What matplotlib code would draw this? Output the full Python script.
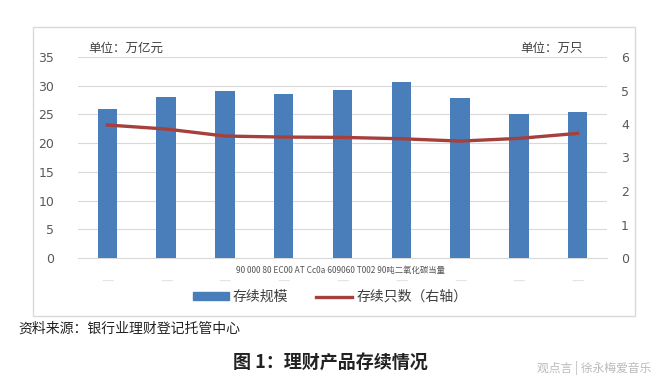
import matplotlib
matplotlib.use("Agg")
import matplotlib.pyplot as plt
import numpy as np
from matplotlib.patches import Rectangle
from matplotlib.lines import Line2D

plt.rcParams['font.family'] = ['Noto Sans CJK SC', 'DejaVu Sans']

# ---- data ----
periods = ["P1", "P2", "P3", "P4", "P5", "P6", "P7", "P8", "P9"]
scale_trn = [25.9, 28.1, 29.1, 28.5, 29.3, 30.7, 27.8, 25.1, 25.5]   # 存续规模 (万亿元)
count_wan = [3.97, 3.85, 3.64, 3.61, 3.60, 3.56, 3.49, 3.57, 3.72]   # 存续只数 (万只)
left_ticks = [0, 5, 10, 15, 20, 25, 30, 35]
right_ticks = [0, 1, 2, 3, 4, 5, 6]

BLUE = "#4A7EBB"
RED = "#A5403D"
GRAY = "#595959"

fig = plt.figure(figsize=(6.6, 3.88), dpi=100)
W, H = 660, 388

# outer chart box
fig.patches.append(Rectangle((33 / W, 1 - 316 / H), (635 - 33) / W, (316 - 27) / H,
                             transform=fig.transFigure, fill=False,
                             edgecolor="#D9D9D9", linewidth=1.0))

ax = fig.add_axes([78 / W, 1 - 258 / H, (607 - 78) / W, (258 - 57) / H])
x = np.arange(len(periods))
ax.bar(x, scale_trn, width=0.33, color=BLUE, zorder=3)
ax.set_xlim(-0.5, len(periods) - 0.5)
ax.set_ylim(0, 35)
ax.set_yticks(left_ticks)
ax.set_yticklabels([str(t) for t in left_ticks], fontsize=9, color=GRAY,
                   family=['DejaVu Sans'])
ax.tick_params(axis='y', length=0, pad=17)
ax.grid(axis='y', color="#D9D9D9", linewidth=0.8, zorder=0)
for s in ["left", "right", "top"]:
    ax.spines[s].set_visible(False)
ax.spines["bottom"].set_color("#D9D9D9")
ax.set_xticks(x)
ax.set_xticklabels(["—"] * len(periods), fontsize=10, color="#E3E3E3")
ax.tick_params(axis='x', length=0, pad=12)

ax2 = ax.twinx()
ax2.plot(x, count_wan, color=RED, linewidth=2.4, zorder=4)
ax2.set_ylim(0, 6)
ax2.set_yticks(right_ticks)
ax2.set_yticklabels([str(t) for t in right_ticks], fontsize=9, color=GRAY,
                    family=['DejaVu Sans'])
ax2.tick_params(axis='y', length=0, pad=10)
for s in ["left", "right", "top", "bottom"]:
    ax2.spines[s].set_visible(False)

# unit labels
fig.text(88 / W, 1 - 48 / H, "单位：万亿元", fontsize=9, color="#404040", va="center")
fig.text(583 / W, 1 - 48 / H, "单位：万只", fontsize=9, color="#404040", va="center", ha="right")

# faint overlay text
fig.text(340 / W, 1 - 270 / H, "90 000 80 EC00 AT Cc0a 609060 T002 90吨二氧化碳当量",
         fontsize=6, color="#555555", ha="center", va="center")

# legend
handles = [Rectangle((0, 0), 1, 1, color=BLUE),
           Line2D([0], [0], color=RED, linewidth=2.4)]
fig.legend(handles, ["存续规模", "存续只数（右轴）"], loc="center",
           bbox_to_anchor=(330 / W, 1 - 297 / H), ncol=2, frameon=False,
           fontsize=10, handlelength=2.6, handleheight=0.5, columnspacing=2.0,
           handletextpad=0.3, labelcolor="#404040")

# source, title, watermark
fig.text(18 / W, 1 - 329 / H, "资料来源：银行业理财登记托管中心", fontsize=10,
         color="#222222", va="center")
fig.text(330 / W, 1 - 363 / H, "图 1：理财产品存续情况", fontsize=13, fontweight="bold",
         color="#222222", va="center", ha="center")
fig.text(651 / W, 1 - 368 / H, "观点言 | 徐永梅爱音乐", fontsize=8.5, color="#BBBBBB",
         va="center", ha="right")

fig.savefig("out.png", dpi=100)
